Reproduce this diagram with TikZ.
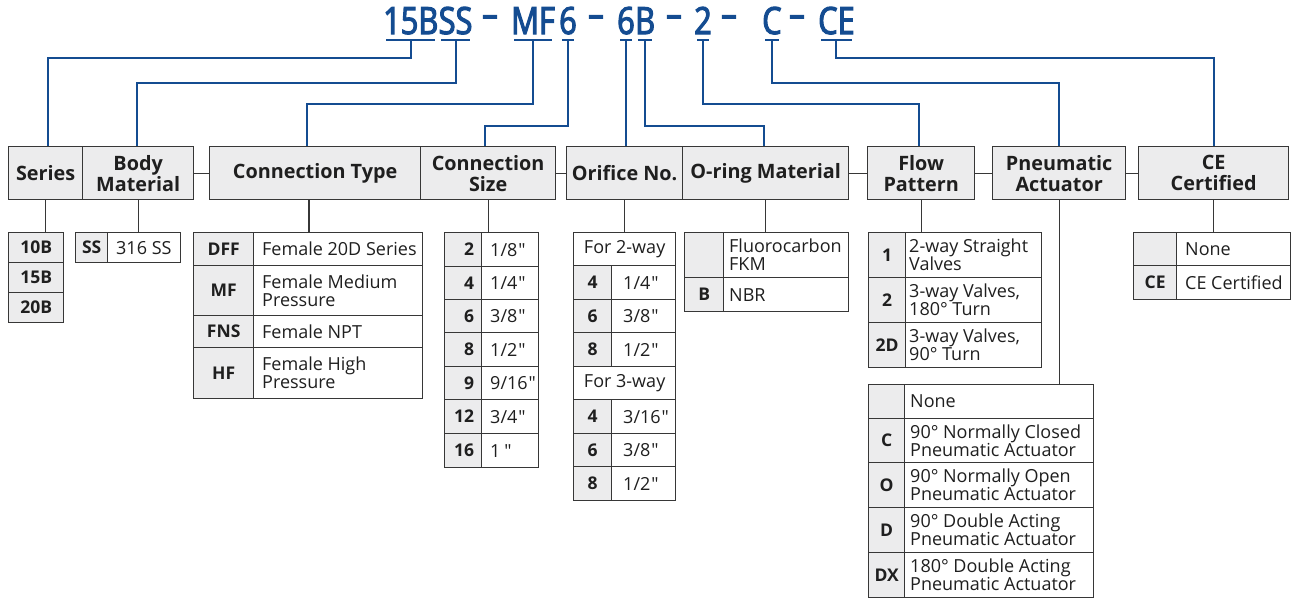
\documentclass[tikz,border=0pt]{standalone}
\usepackage{fontspec}
\setmainfont{Open Sans}[Ligatures=TeXOff]
\newfontfamily\codefont{Open Sans}[FakeStretch=0.82,FakeBold=3]
\usetikzlibrary{calc}
\definecolor{codeblue}{RGB}{20,76,145}
\definecolor{cellgray}{RGB}{236,236,237}
\definecolor{linegray}{RGB}{55,55,55}
\tikzset{
 hdr/.style={draw=linegray, line width=1.3pt, fill=cellgray, anchor=north west, inner sep=0pt, align=center, text=black!88, font=\bfseries\fontsize{19.8}{21}\selectfont},
 ccell/.style={draw=linegray, line width=1.3pt, fill=cellgray, anchor=north west, inner sep=0pt, text=black!88, font=\bfseries\fontsize{17.5}{18}\selectfont},
 dcell/.style={draw=linegray, line width=1.3pt, fill=white, anchor=north west, inner sep=0pt, text=black!88, font=\fontsize{18}{18}\selectfont},
 dtxt/.style={inner sep=0pt, align=left, text=black!88, font=\fontsize{18}{18}\selectfont},
 ctxt/.style={inner sep=0pt, text=black!88, font=\bfseries\fontsize{17.5}{18}\selectfont},
 codetxt/.style={inner sep=0pt, anchor=base west, text=codeblue, font=\codefont\fontsize{37.5}{38}\selectfont},
 blueline/.style={draw=codeblue, line width=2pt},
 stemline/.style={draw=linegray, line width=1.3pt},
}
\newcommand\Hdr[4]{\node[hdr, minimum width={#3-#2}, minimum height=53] (#1) at (#2,146) {#4};}
\newcommand\Code[6]{\node[ccell, minimum width={#4-#2}, minimum height={#5-#3}] (#1) at (#2,#3) {#6};}
\newcommand\CodeR[6]{\node[ccell, minimum width={#4-#2}, minimum height={#5-#3}] (#1) at (#2,#3) {};
 \node[ctxt, anchor=east] (#1t) at ([shift={(-8,0)}]#1.east) {#6};}
\newcommand\Desc[7]{\node[dcell, minimum width={#4-#2}, minimum height={#5-#3}] (#1) at (#2,#3) {};
 \node[dtxt, anchor=west] (#1t) at ([shift={(#6,0)}]#1.west) {#7};}
\newcommand\Full[6]{\node[dcell, minimum width={#4-#2}, minimum height={#5-#3}] (#1) at (#2,#3) {#6};}
\begin{document}
\begin{tikzpicture}[x=1pt,y=-1pt]
\useasboundingbox (0,0) rectangle (1299,600);
% code string
\node[codetxt] (k15) at (383,34) {15B};
\node[codetxt] (kSS) at (k15.base east) {SS};
\node[codetxt, anchor=base] (d1) at (490,27) {–};
\node[codetxt] (kMF) at (511,34) {MF};
\node[codetxt] (k6a) at (559,34) {6};
\node[codetxt, anchor=base] (d2) at (596,27) {–};
\node[codetxt] (k6b) at (617,34) {6};
\node[codetxt] (kB) at (k6b.base east) {B};
\node[codetxt, anchor=base] (d3) at (674,27) {–};
\node[codetxt] (k2) at (694,34) {2};
\node[codetxt, anchor=base] (d4) at (729,27) {–};
\node[codetxt] (kC) at (762,34) {C};
\node[codetxt, anchor=base] (d5) at (797,27) {–};
\node[codetxt] (kCE) at (818,34) {CE};
\foreach \k in {k15,kSS,kMF,k6a,k6b,kB,k2,kC,kCE}{
 \draw[blueline] ([shift={(3,6)}]\k.base west) -- ([shift={(-3,6)}]\k.base east);
}
% headers
\Hdr{hser}{8}{82}{Series}
\Hdr{hbody}{82}{193}{Body\\Material}
\Hdr{hct}{209}{420}{Connection Type}
\Hdr{hcs}{420}{555}{Connection\\Size}
\Hdr{hor}{566}{682}{Orifice No.}
\Hdr{hor2}{682}{848}{O-ring Material}
\Hdr{hflow}{867}{974}{Flow\\Pattern}
\Hdr{hpa}{992}{1125}{Pneumatic\\Actuator}
\Hdr{hce}{1138}{1288}{CE\\Certified}
\draw[stemline] (hbody.east) -- (hct.west);
\draw[stemline] (hcs.east) -- (hor.west);
\draw[stemline] (hor2.east) -- (hflow.west);
\draw[stemline] (hflow.east) -- (hpa.west);
\draw[stemline] (hpa.east) -- (hce.west);
% blue connectors
\coordinate (j1) at (48,58);
\coordinate (j2) at (137,83);
\coordinate (j3) at (307,104);
\coordinate (j4) at (485,126);
\coordinate (j6) at (764,126);
\coordinate (j7) at (919,104);
\coordinate (j8) at (1059,83);
\coordinate (j9) at (1214,58);
\draw[blueline] ([shift={(0,6)}]k15.base) |- (j1) -- (j1 |- hser.north);
\draw[blueline] ([shift={(0,6)}]kSS.base) |- (j2) -- (j2 |- hbody.north);
\draw[blueline] ([shift={(0,6)}]kMF.base) |- (j3) -- (j3 |- hct.north);
\draw[blueline] ([shift={(0,6)}]k6a.base) |- (j4) -- (j4 |- hcs.north);
\draw[blueline] ([shift={(0,6)}]k6b.base) -- (k6b.base |- hor.north);
\draw[blueline] ([shift={(0,6)}]kB.base) |- (j6) -- (j6 |- hor2.north);
\draw[blueline] ([shift={(0,6)}]k2.base) |- (j7) -- (j7 |- hflow.north);
\draw[blueline] ([shift={(0,6)}]kC.base) |- (j8) -- (j8 |- hpa.north);
\draw[blueline] ([shift={(0,6)}]kCE.base) |- (j9) -- (j9 |- hce.north);
% Series
\Code{s1}{8}{232}{63}{262}{10B}
\Code{s2}{8}{262}{63}{292}{15B}
\Code{s3}{8}{292}{63}{322}{20B}
% Body
\Code{b1}{75}{232}{107}{262}{SS}
\Desc{b1d}{107}{232}{180}{262}{9}{316 SS}
% Connection type
\Code{ct1}{193}{232}{253}{265}{DFF}
\Desc{ct1d}{253}{232}{422}{265}{9}{Female 20D Series}
\Code{ct2}{193}{265}{253}{315}{MF}
\Desc{ct2d}{253}{265}{422}{315}{9}{Female Medium\\Pressure}
\Code{ct3}{193}{315}{253}{347}{FNS}
\Desc{ct3d}{253}{315}{422}{347}{9}{Female NPT}
\Code{ct4}{193}{347}{253}{398}{HF}
\Desc{ct4d}{253}{347}{422}{398}{9}{Female High\\Pressure}
% Connection size
\CodeR{cs1}{444}{232}{481}{266}{2}
\Desc{cs1d}{481}{232}{538}{266}{9}{1/8\kern1pt"}
\CodeR{cs2}{444}{266}{481}{299}{4}
\Desc{cs2d}{481}{266}{538}{299}{9}{1/4\kern1pt"}
\CodeR{cs3}{444}{299}{481}{332}{6}
\Desc{cs3d}{481}{299}{538}{332}{9}{3/8\kern1pt"}
\CodeR{cs4}{444}{332}{481}{366}{8}
\Desc{cs4d}{481}{332}{538}{366}{9}{1/2\kern1pt"}
\CodeR{cs5}{444}{366}{481}{399}{9}
\Desc{cs5d}{481}{366}{538}{399}{9}{9/16\kern1pt"}
\CodeR{cs6}{444}{399}{481}{433}{12}
\Desc{cs6d}{481}{399}{538}{433}{9}{3/4\kern1pt"}
\CodeR{cs7}{444}{433}{481}{467}{16}
\Desc{cs7d}{481}{433}{538}{467}{9}{1\kern4pt"}
% Orifice
\Full{o0}{573}{232}{675}{265}{For 2-way}
\Code{o1}{573}{265}{611}{299}{4}
\Desc{o1d}{611}{265}{675}{299}{12}{1/4\kern1pt"}
\Code{o2}{573}{299}{611}{332}{6}
\Desc{o2d}{611}{299}{675}{332}{12}{3/8\kern1pt"}
\Code{o3}{573}{332}{611}{366}{8}
\Desc{o3d}{611}{332}{675}{366}{12}{1/2\kern1pt"}
\Full{o4}{573}{366}{675}{399}{For 3-way}
\Code{o5}{573}{399}{611}{433}{4}
\Desc{o5d}{611}{399}{675}{433}{12}{3/16\kern1pt"}
\Code{o6}{573}{433}{611}{466}{6}
\Desc{o6d}{611}{433}{675}{466}{12}{3/8\kern1pt"}
\Code{o7}{573}{466}{611}{500}{8}
\Desc{o7d}{611}{466}{675}{500}{12}{1/2\kern1pt"}
% O-ring
\Code{r1}{684}{232}{723}{277}{}
\Desc{r1d}{723}{232}{848}{277}{6}{Fluorocarbon\\FKM}
\Code{r2}{684}{277}{723}{311}{B}
\Desc{r2d}{723}{277}{848}{311}{6}{NBR}
% Flow pattern
\Code{f1}{868}{232}{905}{277}{1}
\Desc{f1d}{905}{232}{1041}{277}{4}{2-way Straight\\Valves}
\Code{f2}{868}{277}{905}{322}{2}
\Desc{f2d}{905}{277}{1041}{322}{4}{3-way Valves,\\180° Turn}
\Code{f3}{868}{322}{905}{367}{2D}
\Desc{f3d}{905}{322}{1041}{367}{4}{3-way Valves,\\90° Turn}
% Pneumatic actuator
\Code{pa1}{868}{384}{904}{418}{}
\Desc{pa1d}{904}{384}{1093}{418}{6}{None}
\Code{pa2}{868}{418}{904}{462}{C}
\Desc{pa2d}{904}{418}{1093}{462}{6}{90° Normally Closed\\Pneumatic Actuator}
\Code{pa3}{868}{462}{904}{507}{O}
\Desc{pa3d}{904}{462}{1093}{507}{6}{90° Normally Open\\Pneumatic Actuator}
\Code{pa4}{868}{507}{904}{552}{D}
\Desc{pa4d}{904}{507}{1093}{552}{6}{90° Double Acting\\Pneumatic Actuator}
\Code{pa5}{868}{552}{904}{597}{DX}
\Desc{pa5d}{904}{552}{1093}{597}{6}{180° Double Acting\\Pneumatic Actuator}
% CE
\Code{ce1}{1133}{232}{1176}{265}{}
\Desc{ce1d}{1176}{232}{1290}{265}{9}{None}
\Code{ce2}{1133}{265}{1176}{299}{CE}
\Desc{ce2d}{1176}{265}{1290}{299}{9}{CE Certified}
% stems header -> table
\coordinate (ctx) at (309,0);
\draw[stemline] (hser.south) -- (hser.south |- s1.north);
\draw[stemline] (hbody.south) -- (hbody.south |- b1.north);
\draw[stemline] (ctx |- hct.south) -- (ctx |- ct1.north);
\draw[stemline] (hcs.south) -- (hcs.south |- cs1.north);
\draw[stemline] (hor.south) -- (hor.south |- o0.north);
\draw[stemline] (hor2.south) -- (hor2.south |- r1.north);
\draw[stemline] (hflow.south) -- (hflow.south |- f1.north);
\draw[stemline] (hpa.south) -- (hpa.south |- pa1.north);
\draw[stemline] (hce.south) -- (hce.south |- ce1.north);
\end{tikzpicture}
\end{document}
